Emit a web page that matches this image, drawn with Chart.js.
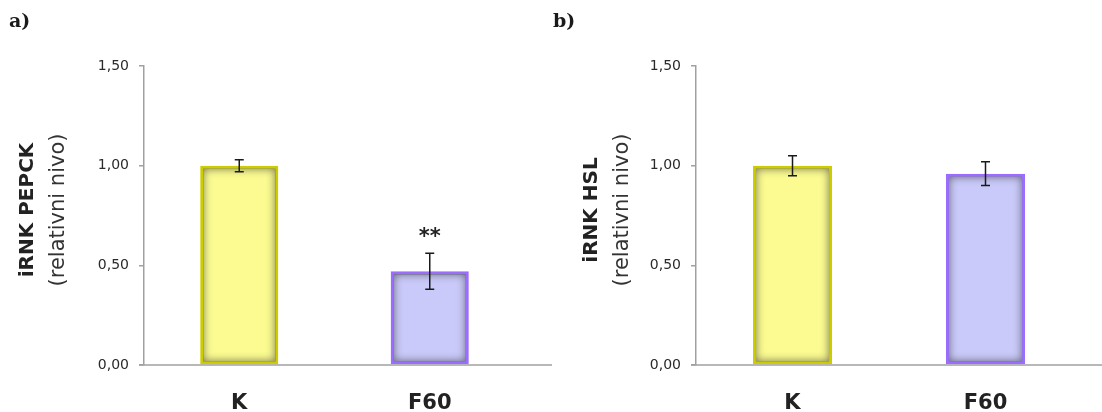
<!DOCTYPE html>
<html>
<head>
<meta charset="utf-8">
<script src="https://cdn.jsdelivr.net/npm/chart.js@4"></script>
<style>
    html, body { margin: 0; padding: 0; background: #fff; }
    #wrap { position: relative; width: 1102px; height: 412px; overflow: hidden; }
    .panel { position: absolute; top: 0; height: 412px; }
    #panel-a { left: 0; width: 552px; }
    #panel-b { left: 552px; width: 550px; }
</style>
</head>
<body>
<div id="wrap">
    <div class="panel" id="panel-a"><canvas id="chart-a"></canvas></div>
    <div class="panel" id="panel-b"><canvas id="chart-b"></canvas></div>
</div>
<script>
// ---------------------------------------------------------------------
// DATA
// ---------------------------------------------------------------------
const categories = ['K', 'F60'];
const yTicks = [0, 0.5, 1.0, 1.5];

const pepckValues = [1.00, 0.47];
const pepckErrors = [0.03, 0.09];
const pepckMarks = ['', '**'];

const hslValues = [1.00, 0.96];
const hslErrors = [0.05, 0.06];
const hslMarks = ['', ''];

const fillColors = ['#fbfb91', '#cacafa'];
const borderColors = ['#cccc00', '#9a6cff'];

// ---------------------------------------------------------------------
// PLUGINS
// ---------------------------------------------------------------------
// darker inner glow along the inside of every bar
const innerShadowPlugin = {
    id: 'innerShadow',
    afterDatasetsDraw(chart) {
        const ctx = chart.ctx;
        const bw = 3;
        chart.getDatasetMeta(0).data.forEach(bar => {
            const left = bar.x - bar.width / 2 + bw;
            const top = bar.y + bw;
            const w = bar.width - 2 * bw;
            const h = bar.base - bar.y - 2 * bw;
            ctx.save();
            ctx.beginPath();
            ctx.rect(left, top, w, h);
            ctx.clip();
            ctx.shadowColor = 'rgba(30, 30, 30, 0.6)';
            ctx.shadowBlur = 8;
            ctx.lineWidth = 10;
            ctx.strokeStyle = '#000';
            ctx.strokeRect(left - 5, top - 5, w + 10, h + 10);
            ctx.restore();
        });
    }
};

// error bars + significance stars
const errorBarPlugin = {
    id: 'errorBars',
    afterDatasetsDraw(chart, args, opts) {
        const ctx = chart.ctx;
        const y = chart.scales.y;
        const values = chart.data.datasets[0].data;
        chart.getDatasetMeta(0).data.forEach((bar, i) => {
            const err = opts.errors[i];
            const yTop = y.getPixelForValue(values[i] + err);
            const yBot = y.getPixelForValue(values[i] - err);
            ctx.save();
            ctx.strokeStyle = '#1a1a1a';
            ctx.lineWidth = 1.5;
            ctx.beginPath();
            ctx.moveTo(bar.x, yTop);
            ctx.lineTo(bar.x, yBot);
            ctx.moveTo(bar.x - 4.5, yTop);
            ctx.lineTo(bar.x + 4.5, yTop);
            ctx.moveTo(bar.x - 4.5, yBot);
            ctx.lineTo(bar.x + 4.5, yBot);
            ctx.stroke();
            if (opts.marks[i]) {
                ctx.fillStyle = '#222';
                ctx.font = 'bold 21px "DejaVu Sans"';
                ctx.textAlign = 'center';
                ctx.textBaseline = 'middle';
                ctx.fillText(opts.marks[i], bar.x, yTop - 16);
            }
            ctx.restore();
        });
    }
};

// axis titles, panel letter and the x axis line running to the edge
const decorPlugin = {
    id: 'decor',
    afterDraw(chart, args, opts) {
        const ctx = chart.ctx;
        const area = chart.chartArea;
        ctx.save();
        ctx.strokeStyle = '#a0a0a0';
        ctx.lineWidth = 1.5;
        ctx.beginPath();
        ctx.moveTo(area.left - 5, area.bottom);
        ctx.lineTo(chart.width, area.bottom);
        ctx.stroke();

        ctx.fillStyle = '#1a1a1a';
        ctx.font = 'bold 19px "DejaVu Serif"';
        ctx.textAlign = 'left';
        ctx.textBaseline = 'middle';
        ctx.fillText(opts.letter, opts.letterX, 22);

        ctx.translate(opts.titleX, 210);
        ctx.rotate(-Math.PI / 2);
        ctx.textAlign = 'center';
        ctx.font = 'bold 20px "DejaVu Sans"';
        ctx.fillStyle = '#222';
        ctx.fillText(opts.title, 0, 0);
        ctx.font = '21px "DejaVu Sans"';
        ctx.fillStyle = '#333';
        ctx.fillText('(relativni nivo)', 0, 31);
        ctx.restore();
    }
};

// ---------------------------------------------------------------------
// CHART BUILDER
// ---------------------------------------------------------------------
function makePanel(canvasId, values, errors, marks, opts) {
    const ctx = document.getElementById(canvasId).getContext('2d');
    return new Chart(ctx, {
        type: 'bar',
        data: {
            labels: categories,
            datasets: [{
                data: values,
                backgroundColor: fillColors,
                borderColor: borderColors,
                borderWidth: 3,
                borderSkipped: false,
                barPercentage: 0.41,
                categoryPercentage: 1.0
            }]
        },
        options: {
            responsive: true,
            maintainAspectRatio: false,
            animation: false,
            layout: { padding: { top: 66, right: opts.padRight, left: 0, bottom: 0 } },
            plugins: {
                legend: { display: false },
                tooltip: { enabled: false },
                errorBars: { errors, marks },
                decor: { letter: opts.letter, letterX: opts.letterX, title: opts.title, titleX: opts.titleX }
            },
            scales: {
                x: {
                    grid: { display: false, drawTicks: false },
                    border: { display: false },
                    ticks: {
                        padding: 26,
                        color: '#222',
                        font: { family: 'DejaVu Sans', size: 21, weight: 'bold' }
                    },
                    afterFit: scale => { scale.height = 47; }
                },
                y: {
                    min: 0,
                    max: 1.5,
                    afterBuildTicks: scale => { scale.ticks = yTicks.map(v => ({ value: v })); },
                    grid: { drawOnChartArea: false, tickLength: 5, color: '#a0a0a0', lineWidth: 1.5 },
                    border: { display: true, color: '#a0a0a0', width: 1.5 },
                    ticks: {
                        padding: 10,
                        color: '#2a2a2a',
                        font: { family: 'DejaVu Sans', size: 14 },
                        callback: v => v.toFixed(2).replace('.', ',')
                    },
                    afterFit: scale => { scale.width = 144; }
                }
            }
        },
        plugins: [innerShadowPlugin, errorBarPlugin, decorPlugin]
    });
}

makePanel('chart-a', pepckValues, pepckErrors, pepckMarks,
    { padRight: 27, letter: 'a)', letterX: 9, title: 'iRNK PEPCK', titleX: 28 });
makePanel('chart-b', hslValues, hslErrors, hslMarks,
    { padRight: 20, letter: 'b)', letterX: 1, title: 'iRNK HSL', titleX: 40 });
</script>
</body>
</html>
